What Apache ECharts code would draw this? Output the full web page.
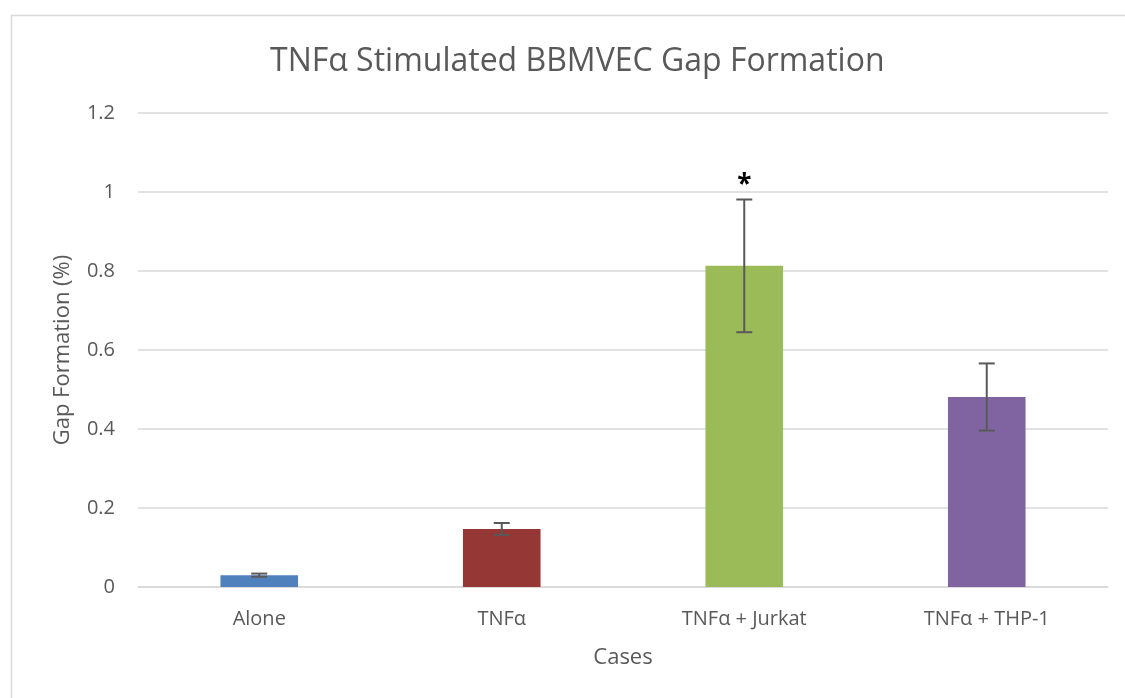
<!DOCTYPE html>
<html>
<head>
<meta charset="utf-8">
<script src="https://cdn.jsdelivr.net/npm/echarts@6/dist/echarts.min.js"></script>
<style>
  html, body { margin: 0; padding: 0; background: #fff; }
</style>
</head>
<body>
<div id="chart" style="width:1125px;height:698px;"></div>
<script>
  // data
  var categories = ['Alone', 'TNFα', 'TNFα + Jurkat', 'TNFα + THP-1'];
  var values = [0.030, 0.147, 0.813, 0.481];
  var errors = [0.004, 0.015, 0.168, 0.085];
  var colors = ['#4F81BD', '#953735', '#9BBB59', '#8064A2'];
  var marks = ['', '', '*', ''];
  var yTicks = [0, 0.2, 0.4, 0.6, 0.8, 1, 1.2];

  var font = '"Open Sans", "Liberation Sans", sans-serif';
  var myChart = echarts.init(document.getElementById('chart'));

  var errData = values.map(function (v, i) {
    return [i, v - errors[i], v + errors[i], marks[i]];
  });

  var option = {
    animation: false,
    backgroundColor: '#fff',
    title: {
      text: 'TNFα Stimulated BBMVEC Gap Formation',
      left: 265,
      top: 41,
      textStyle: { fontFamily: font, fontSize: 32, fontWeight: 'normal', color: '#595959' }
    },
    graphic: [{
      type: 'rect',
      shape: { x: 11.5, y: 15.5, width: 1200, height: 800 },
      style: { fill: 'none', stroke: '#d9d9d9', lineWidth: 1.5 },
      silent: true
    }],
    grid: { left: 138, right: 17, top: 113, bottom: 111 },
    xAxis: {
      type: 'category',
      data: categories,
      name: 'Cases',
      nameLocation: 'middle',
      nameGap: 60,
      nameTextStyle: { fontFamily: font, fontSize: 22, color: '#595959' },
      axisLine: { lineStyle: { color: '#d9d9d9', width: 1.5 } },
      axisTick: { show: false },
      axisLabel: { fontFamily: font, fontSize: 20, color: '#595959', margin: 22 }
    },
    yAxis: {
      type: 'value',
      min: 0,
      max: yTicks[yTicks.length - 1],
      interval: 0.2,
      name: 'Gap Formation (%)',
      nameLocation: 'middle',
      nameGap: 64,
      nameTextStyle: { fontFamily: font, fontSize: 22, color: '#595959' },
      axisLine: { show: false },
      axisTick: { show: false },
      splitLine: { lineStyle: { color: '#d9d9d9', width: 1.5 } },
      axisLabel: {
        fontFamily: font, fontSize: 20, color: '#595959', margin: 23,
        formatter: function (v) { return String(Math.round(v * 10) / 10); }
      }
    },
    series: [
      {
        type: 'bar',
        barWidth: '32%',
        data: values.map(function (v, i) {
          return { value: v, itemStyle: { color: colors[i] } };
        })
      },
      {
        type: 'custom',
        z: 10,
        data: errData,
        renderItem: function (params, api) {
          var x = api.value(0);
          var lo = api.coord([x, api.value(1)]);
          var hi = api.coord([x, api.value(2)]);
          var cap = 8;
          var st = { stroke: '#595959', lineWidth: 2 };
          var children = [
            { type: 'line', shape: { x1: lo[0], y1: lo[1], x2: hi[0], y2: hi[1] }, style: st },
            { type: 'line', shape: { x1: lo[0] - cap, y1: lo[1], x2: lo[0] + cap, y2: lo[1] }, style: st },
            { type: 'line', shape: { x1: hi[0] - cap, y1: hi[1], x2: hi[0] + cap, y2: hi[1] }, style: st }
          ];
          var m = api.value(3);
          if (m) {
            children.push({
              type: 'text',
              style: {
                text: m, x: hi[0], y: hi[1] - 14,
                align: 'center', verticalAlign: 'middle',
                fontFamily: font, fontSize: 26, fontWeight: 'bold', fill: '#000'
              }
            });
          }
          return { type: 'group', children: children };
        }
      }
    ]
  };

  myChart.setOption(option);
</script>
</body>
</html>
